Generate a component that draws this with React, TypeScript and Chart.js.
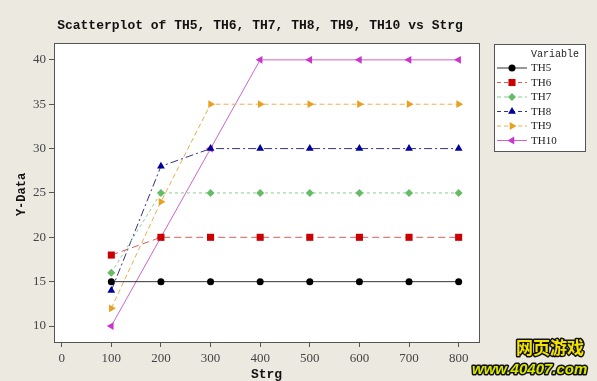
import React, { useEffect, useRef } from "react";
import { Chart, registerables } from "chart.js";

Chart.register(...registerables);

const strg = [100, 200, 300, 400, 500, 600, 700, 800];
const th5 = [15, 15, 15, 15, 15, 15, 15, 15];
const th6 = [18, 20, 20, 20, 20, 20, 20, 20];
const th7 = [16, 25, 25, 25, 25, 25, 25, 25];
const th8 = [14, 28, 30, 30, 30, 30, 30, 30];
const th9 = [12, 24, 35, 35, 35, 35, 35, 35];
const th10 = [10, 20, 30, 40, 40, 40, 40, 40];
const xTicks = [0, 100, 200, 300, 400, 500, 600, 700, 800];
const yTicks = [10, 15, 20, 25, 30, 35, 40];

const titleText = "Scatterplot of TH5, TH6, TH7, TH8, TH9, TH10 vs Strg";
const xTitle = "Strg";
const yTitle = "Y-Data";
const legendTitle = "Variable";

const BG = "#ECE9E1";

type S = {
  label: string;
  values: number[];
  marker: string;
  line: string;
  style: string;
  rot: number;
  radius: number;
  dash: number[];
};

const series: S[] = [
  { label: "TH5", values: th5, marker: "#000000", line: "#333333", style: "circle", rot: 0, radius: 3.5, dash: [] },
  { label: "TH6", values: th6, marker: "#CC0000", line: "#D06060", style: "rect", rot: 0, radius: 5, dash: [7, 4] },
  { label: "TH7", values: th7, marker: "#66BB66", line: "#88CC88", style: "rectRot", rot: 0, radius: 4, dash: [3, 3] },
  { label: "TH8", values: th8, marker: "#0000A0", line: "#333388", style: "triangle", rot: 0, radius: 4.5, dash: [8, 3, 2, 3] },
  { label: "TH9", values: th9, marker: "#E8A020", line: "#E8B050", style: "triangle", rot: 90, radius: 4.5, dash: [5, 3] },
  { label: "TH10", values: th10, marker: "#CC33CC", line: "#CC66CC", style: "triangle", rot: -90, radius: 4.5, dash: [] },
];

const decorPlugin = {
  id: "decor",
  beforeDraw(chart: any) {
    const { ctx, chartArea: a } = chart;
    ctx.save();
    ctx.fillStyle = BG;
    ctx.fillRect(0, 0, chart.width, chart.height);
    ctx.fillStyle = "#FFFFFF";
    ctx.fillRect(a.left, a.top, a.right - a.left, a.bottom - a.top);
    ctx.restore();
  },
  afterDraw(chart: any) {
    const { ctx, chartArea: a } = chart;
    ctx.save();
    // frame
    ctx.strokeStyle = "#555555";
    ctx.lineWidth = 1;
    ctx.setLineDash([]);
    ctx.strokeRect(Math.round(a.left) + 0.5, Math.round(a.top) + 0.5, Math.round(a.right - a.left), Math.round(a.bottom - a.top));

    // title
    ctx.fillStyle = "#111111";
    ctx.font = "bold 13px 'Liberation Mono', monospace";
    ctx.textAlign = "center";
    ctx.textBaseline = "middle";
    ctx.fillText(titleText, 260, 26);

    // axis titles
    ctx.font = "bold 13px 'Liberation Mono', monospace";
    ctx.fillText(xTitle, (a.left + a.right) / 2, 375);
    ctx.save();
    ctx.translate(22, (a.top + a.bottom) / 2 + 2);
    ctx.rotate(-Math.PI / 2);
    ctx.font = "bold 12px 'Liberation Mono', monospace";
    ctx.fillText(yTitle, 0, 0);
    ctx.restore();

    // legend box
    const lx = 494, ly = 44, lw = 91, lh = 107;
    ctx.fillStyle = "#FFFFFF";
    ctx.fillRect(lx, ly, lw, lh);
    ctx.strokeStyle = "#555555";
    ctx.strokeRect(lx + 0.5, ly + 0.5, lw, lh);
    ctx.fillStyle = "#222222";
    ctx.textAlign = "left";
    ctx.font = "10px 'Liberation Mono', monospace";
    ctx.fillText(legendTitle, 531, 54);
    ctx.font = "11px 'Liberation Serif', serif";
    series.forEach((s, i) => {
      const y = 68 + i * 14.5;
      ctx.strokeStyle = s.line;
      ctx.lineWidth = 1;
      ctx.setLineDash(s.dash.length ? [4, 3] : []);
      ctx.beginPath();
      ctx.moveTo(497, y);
      ctx.lineTo(527, y);
      ctx.stroke();
      ctx.setLineDash([]);
      ctx.fillStyle = s.marker;
      ctx.strokeStyle = s.marker;
      (Chart as any).helpers?.drawPoint;
      drawMarker(ctx, s, 512, y);
      ctx.fillStyle = "#222222";
      ctx.fillText(s.label, 531, y + 0.5);
    });

    // watermark
    ctx.textAlign = "left";
    ctx.lineJoin = "round";
    ctx.font = "bold 17px 'Noto Sans CJK SC', sans-serif";
    ctx.lineWidth = 3;
    ctx.strokeStyle = "#111111";
    ctx.strokeText("网页游戏", 516, 348);
    ctx.fillStyle = "#F2E400";
    ctx.fillText("网页游戏", 516, 348);
    ctx.font = "italic bold 15px 'Liberation Sans', sans-serif";
    ctx.strokeText("www.40407.com", 472, 370);
    ctx.fillStyle = "#D8E600";
    ctx.fillText("www.40407.com", 472, 370);
    ctx.restore();
  },
};

function drawMarker(ctx: CanvasRenderingContext2D, s: S, x: number, y: number) {
  const r = s.radius;
  ctx.beginPath();
  if (s.style === "circle") {
    ctx.arc(x, y, r, 0, Math.PI * 2);
  } else if (s.style === "rect") {
    const h = Math.SQRT1_2 * r;
    ctx.rect(x - h, y - h, 2 * h, 2 * h);
  } else if (s.style === "rectRot") {
    ctx.moveTo(x, y - r);
    ctx.lineTo(x + r, y);
    ctx.lineTo(x, y + r);
    ctx.lineTo(x - r, y);
    ctx.closePath();
  } else {
    let rad = (s.rot * Math.PI) / 180;
    ctx.moveTo(x + Math.sin(rad) * r, y - Math.cos(rad) * r);
    rad += (2 * Math.PI) / 3;
    ctx.lineTo(x + Math.sin(rad) * r, y - Math.cos(rad) * r);
    rad += (2 * Math.PI) / 3;
    ctx.lineTo(x + Math.sin(rad) * r, y - Math.cos(rad) * r);
    ctx.closePath();
  }
  ctx.fill();
}

export default function App() {
  const ref = useRef<HTMLCanvasElement>(null);
  useEffect(() => {
    if (!ref.current) return;
    const chart = new Chart(ref.current, {
      type: "scatter",
      data: {
        datasets: series.map((s) => ({
          label: s.label,
          data: strg.map((x, i) => ({ x, y: s.values[i] })),
          showLine: true,
          borderColor: s.line,
          borderWidth: 1,
          borderDash: s.dash,
          backgroundColor: s.marker,
          pointBackgroundColor: s.marker,
          pointBorderColor: s.marker,
          pointBorderWidth: 0,
          pointStyle: s.style as any,
          pointRotation: s.rot,
          pointRadius: s.radius,
          tension: 0,
        })),
      },
      options: {
        responsive: false,
        animation: false,
        layout: { padding: { left: 0, top: 43, right: 118, bottom: 0 } },
        plugins: {
          legend: { display: false },
          title: { display: false },
          tooltip: { enabled: false },
        },
        scales: {
          x: {
            type: "linear",
            min: -15.5,
            max: 841,
            afterBuildTicks: (sc: any) => {
              sc.ticks = xTicks.map((v) => ({ value: v }));
            },
            afterFit: (sc: any) => {
              sc.height = 39;
            },
            grid: { drawOnChartArea: false, drawTicks: true, tickLength: 5, color: "#555555" },
            border: { display: true, color: "#555555" },
            ticks: {
              color: "#444444",
              font: { family: "'Liberation Serif', serif", size: 13 },
              padding: 4,
              maxRotation: 0,
            },
          },
          y: {
            type: "linear",
            min: 8.2,
            max: 41.9,
            afterBuildTicks: (sc: any) => {
              sc.ticks = yTicks.map((v) => ({ value: v }));
            },
            afterFit: (sc: any) => {
              sc.width = 54;
            },
            grid: { drawOnChartArea: false, drawTicks: true, tickLength: 5, color: "#555555" },
            border: { display: true, color: "#555555" },
            ticks: {
              color: "#444444",
              font: { family: "'Liberation Serif', serif", size: 13 },
              padding: 3,
            },
          },
        },
      },
      plugins: [decorPlugin],
    });
    return () => chart.destroy();
  }, []);

  return (
    <div style={{ position: "fixed", left: 0, top: 0, width: 597, height: 381, background: BG }}>
      <canvas ref={ref} width={597} height={381} style={{ display: "block" }} />
    </div>
  );
}
